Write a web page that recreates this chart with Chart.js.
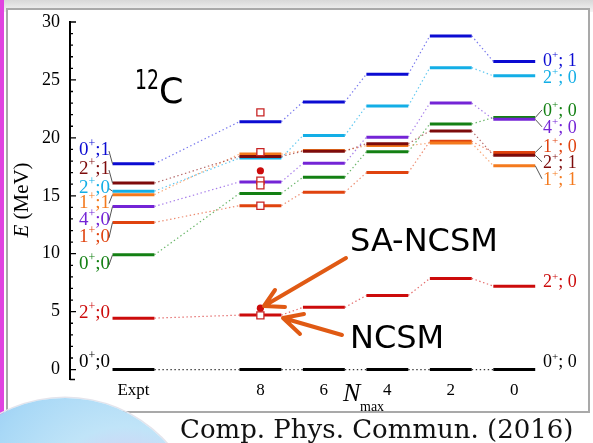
<!DOCTYPE html>
<html>
<head>
<meta charset="utf-8">
<script src="https://cdn.jsdelivr.net/npm/chart.js@4"></script>
<style>
  body { margin: 0; background: #fff; }
  #wrap { position: relative; width: 593px; height: 443px; overflow: hidden; background: #fff; }
  #topband { position: absolute; left: 0; top: 0; width: 593px; height: 12px; background: linear-gradient(#d8d8d8, #f4f4f4); }
  #frame { position: absolute; left: 6px; top: 8px; width: 580px; height: 401px; border: 2px solid #a9a9a9; background: #fff; }
  #pink { position: absolute; left: 0; top: 0; width: 4px; height: 443px; background: #e044e0; }
  #globe { position: absolute; left: -71px; top: 398px; width: 272px; height: 272px; border-radius: 50%;
    background: radial-gradient(circle at 72% 42%, #f0c4f0 0%, #dccaf4 14%, #c0e4f8 34%, #a8d8f6 58%, #7ab2ee 100%);
    box-shadow: 0 0 0 1.5px #e4e4ec; }
  #chart { position: absolute; left: 0; top: 0; }
</style>
</head>
<body>
<div id="wrap">
  <div id="topband"></div>
  <div id="frame"></div>
  <div id="pink"></div>
  <div id="globe"></div>
  <canvas id="chart" width="593" height="443"></canvas>
</div>
<script>
// columns: experiment, then Nmax = 8, 6, 4, 2, 0
const colLabels = ['Expt', '8', '6', '4', '2', '0'];
const colX = [0, 2, 3, 4, 5, 6];
const yTicks = [0, 5, 10, 15, 20, 25, 30];

// level energies (MeV) per state, one value per column
const lvl0p1  = [17.76, 21.4, 23.1, 25.5, 28.8, 26.6];
const lvl2p1  = [16.1, 18.4, 18.85, 19.5, 20.6, 18.5];
const lvl2p0b = [15.4, 18.26, 20.2, 22.76, 26.06, 25.35];
const lvl1p1  = [15.1, 18.6, 18.9, 19.33, 19.55, 17.6];
const lvl4p0  = [14.08, 16.2, 17.8, 20.06, 23.0, 21.6];
const lvl1p0  = [12.7, 14.15, 15.3, 17.0, 19.7, 18.73];
const lvl0p0b = [9.9, 15.2, 16.6, 18.8, 21.2, 21.75];
const lvl2p0  = [4.44, 4.7, 5.37, 6.4, 7.87, 7.2];
const lvlGs   = [0, 0, 0, 0, 0, 0];

// markers at Nmax = 8
const ncsmE = [22.2, 18.77, 16.3, 15.9, 14.14, 4.68];
const saE = [17.16, 5.3];

const stateJ = ['0', '2', '2', '1', '4', '1', '0', '2', '0'];
const stateT = ['1', '1', '0', '1', '0', '0', '0', '0', '0'];
const stateVals = [lvl0p1, lvl2p1, lvl2p0b, lvl1p1, lvl4p0, lvl1p0, lvl0p0b, lvl2p0, lvlGs];
const stateColor = ['#0b0bd2', '#7d0b0b', '#13aee6', '#f47a1e', '#7424d6', '#e0430f', '#138013', '#cc0b0b', '#000000'];
const stateDot = ['rgba(60,60,230,0.7)', 'rgba(150,40,40,0.7)', 'rgba(40,180,235,0.75)', 'rgba(245,130,60,0.7)',
                  'rgba(130,70,225,0.7)', 'rgba(230,90,50,0.7)', 'rgba(40,150,40,0.7)', 'rgba(215,40,40,0.7)', 'rgba(0,0,0,0.8)'];

// label placement (layout only)
const leftLabelE  = [19.03, 17.39, 15.78, 14.51, 13.02, 11.55, 9.2, 5.03, 0.8];
const rightLabelE = [26.72, 17.93, 25.26, 16.47, 20.95, 19.31, 22.41, 7.61, 0.72];
const leftLeader  = [1, 1, 1, 1, 1, 1, 1, 0, 0];
const rightLeader = [0, 1, 0, 1, 1, 1, 1, 0, 0];
const halfW = 0.33;

function levelPoints(vals) {
  let pts = [];
  vals.forEach((e, i) => {
    pts.push({x: colX[i] - halfW, y: e});
    pts.push({x: colX[i] + halfW, y: e});
  });
  return pts;
}

let datasets = [];
datasets.push({
  data: saE.map(e => ({x: colX[1], y: e})),
  showLine: false, pointStyle: 'circle', pointRadius: 3.6,
  pointBackgroundColor: '#cc0b0b', pointBorderColor: '#cc0b0b', pointBorderWidth: 0
});
datasets.push({
  data: ncsmE.map(e => ({x: colX[1], y: e})),
  showLine: false, pointStyle: 'rect', pointRadius: 5,
  pointBackgroundColor: '#ffffff', pointBorderColor: '#c82424', pointBorderWidth: 1.3
});
stateVals.forEach((vals, k) => {
  datasets.push({
    data: levelPoints(vals),
    borderColor: stateColor[k],
    borderWidth: 3,
    borderCapStyle: 'butt',
    pointRadius: 0,
    tension: 0,
    segment: {
      borderDash: c => c.p0DataIndex % 2 ? [1.4, 2.6] : undefined,
      borderWidth: c => c.p0DataIndex % 2 ? 1.2 : undefined,
      borderColor: c => c.p0DataIndex % 2 ? stateDot[k] : undefined
    }
  });
});

function drawState(ctx, x, yPix, i, side) {
  const big = side === 'left' ? 19 : 18;
  const small = Math.round(big * 0.62);
  const a = stateJ[i];
  const b = (side === 'left' ? ';' : '; ') + stateT[i];
  ctx.font = big + 'px "Liberation Serif"';
  const wa = ctx.measureText(a).width, wb = ctx.measureText(b).width;
  ctx.font = small + 'px "Liberation Serif"';
  const ws = ctx.measureText('+').width;
  const w = wa + ws + wb;
  const x0 = side === 'left' ? x - w : x;
  const base = yPix + big * 0.33;
  ctx.fillStyle = stateColor[i];
  ctx.textAlign = 'left';
  ctx.textBaseline = 'alphabetic';
  ctx.font = big + 'px "Liberation Serif"';
  ctx.fillText(a, x0, base);
  ctx.font = small + 'px "Liberation Serif"';
  ctx.fillText('+', x0 + wa, base - big * 0.42);
  ctx.font = big + 'px "Liberation Serif"';
  ctx.fillText(b, x0 + wa + ws, base);
}

function arrow(ctx, x1, y1, x2, y2, arms) {
  ctx.beginPath();
  ctx.moveTo(x1, y1); ctx.lineTo(x2, y2);
  ctx.moveTo(arms[0], arms[1]); ctx.lineTo(x2, y2); ctx.lineTo(arms[2], arms[3]);
  ctx.stroke();
}

const decor = {
  id: 'decor',
  afterDraw(chart) {
    const ctx = chart.ctx;
    const xs = chart.scales.x, ys = chart.scales.y;
    const left = chart.chartArea.left;
    ctx.save();

    // y axis with inward ticks
    ctx.strokeStyle = '#000';
    ctx.lineWidth = 2;
    ctx.beginPath();
    ctx.moveTo(left, ys.getPixelForValue(30) - 1);
    ctx.lineTo(left, ys.getPixelForValue(ys.min));
    ctx.stroke();
    ctx.lineWidth = 1.3;
    ctx.beginPath();
    for (let v = 0; v <= 30; v++) {
      const p = ys.getPixelForValue(v);
      ctx.moveTo(left, p); ctx.lineTo(left + (v % 5 === 0 ? 6 : 3), p);
    }
    const pb = ys.getPixelForValue(ys.min);
    ctx.moveTo(left, pb - 0.5); ctx.lineTo(left + 5, pb - 0.5);
    ctx.stroke();

    // axis titles
    ctx.fillStyle = '#000';
    ctx.save();
    ctx.translate(28, 200);
    ctx.rotate(-Math.PI / 2);
    ctx.font = 'italic 21px "Liberation Serif"';
    const we = ctx.measureText('E').width;
    ctx.font = '21px "Liberation Serif"';
    const wr = ctx.measureText(' (MeV)').width;
    ctx.textBaseline = 'alphabetic';
    ctx.font = 'italic 21px "Liberation Serif"';
    ctx.fillText('E', -(we + wr) / 2, 0);
    ctx.font = '21px "Liberation Serif"';
    ctx.fillText(' (MeV)', -(we + wr) / 2 + we, 0);
    ctx.restore();
    ctx.font = 'italic 26px "Liberation Serif"';
    ctx.fillText('N', 343, 401);
    ctx.font = '14px "Liberation Serif"';
    ctx.fillText('max', 360, 411);

    // state labels + leader lines
    ctx.lineWidth = 1;
    stateVals.forEach((vals, i) => {
      const yl = ys.getPixelForValue(leftLabelE[i]);
      const yr = ys.getPixelForValue(rightLabelE[i]);
      drawState(ctx, 110, yl, i, 'left');
      drawState(ctx, 543, yr, i, 'right');
      ctx.strokeStyle = '#555';
      ctx.beginPath();
      if (leftLeader[i]) {
        ctx.moveTo(109, yl + 2);
        ctx.lineTo(xs.getPixelForValue(colX[0] - halfW), ys.getPixelForValue(vals[0]));
      }
      if (rightLeader[i]) {
        ctx.moveTo(xs.getPixelForValue(colX[5] + halfW), ys.getPixelForValue(vals[5]));
        ctx.lineTo(542, yr);
      }
      ctx.stroke();
    });

    // annotations
    ctx.fillStyle = '#000';
    ctx.font = '26px "DejaVu Sans"';
    ctx.fillText('12', 135, 89, 24);
    ctx.font = '35px "DejaVu Sans"';
    ctx.fillText('C', 159, 103);
    ctx.font = '32px "DejaVu Sans"';
    ctx.fillText('SA-NCSM', 350, 251, 164);
    ctx.fillText('NCSM', 350, 348, 96);

    ctx.strokeStyle = '#e05a14';
    ctx.lineWidth = 4;
    ctx.lineCap = 'round';
    ctx.lineJoin = 'round';
    arrow(ctx, 346, 258, 264, 306, [275, 290, 285, 307]);
    arrow(ctx, 342, 335, 283, 318, [304, 314, 300, 334]);

    ctx.fillStyle = '#111';
    ctx.font = '26px "DejaVu Serif"';
    ctx.fillText('Comp. Phys. Commun. (2016)', 180, 438, 410);
    ctx.restore();
  }
};

new Chart(document.getElementById('chart'), {
  type: 'line',
  data: { datasets: datasets },
  options: {
    responsive: false,
    animation: false,
    layout: { padding: { left: 0, right: 47, top: 22, bottom: 33 } },
    plugins: { legend: { display: false }, tooltip: { enabled: false } },
    scales: {
      x: {
        type: 'linear', min: -1, max: 6.5,
        grid: { display: false, drawTicks: false },
        border: { display: false },
        afterBuildTicks: s => { s.ticks = colX.map(v => ({value: v})); },
        afterFit: s => { s.height = 30; },
        ticks: {
          callback: v => colLabels[colX.indexOf(v)],
          font: { family: 'Liberation Serif', size: 17 },
          color: '#000', maxRotation: 0, autoSkip: false, padding: 0
        }
      },
      y: {
        min: -0.9, max: 30,
        grid: { display: false, drawTicks: false },
        border: { display: false },
        afterBuildTicks: s => { s.ticks = yTicks.map(v => ({value: v})); },
        afterFit: s => { s.width = 70; },
        ticks: { font: { family: 'Liberation Serif', size: 18 }, color: '#000', padding: 10 }
      }
    }
  },
  plugins: [decor]
});
</script>
</body>
</html>
